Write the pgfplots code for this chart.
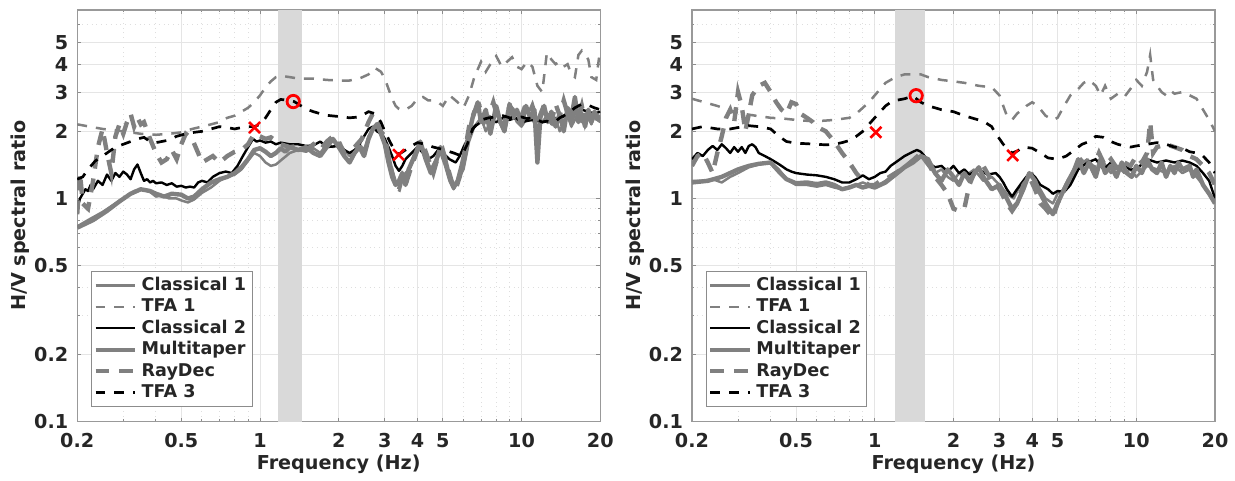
\documentclass[border=0pt]{standalone}
\usepackage{fontspec}
\setmainfont{DejaVu Sans}
\usepackage{pgfplots}
\pgfplotsset{compat=1.18}
\definecolor{lg}{RGB}{128,128,128}
\definecolor{txt}{RGB}{38,38,38}
\definecolor{band}{RGB}{217,217,217}
\tikzset{
 sCa/.style={draw=lg, line width=1.25pt, line join=round},
 sTa/.style={draw=lg, line width=1.25pt, dash pattern=on 5pt off 4.5pt},
 sCb/.style={draw=black, line width=1.2pt, line join=round},
 sMT/.style={draw=lg, line width=2.2pt, line join=round},
 sRD/.style={draw=lg, line width=2.2pt, dash pattern=on 7pt off 5pt},
 sTc/.style={draw=black, line width=1.35pt, dash pattern=on 5pt off 4.5pt},
}
\pgfplotsset{every axis/.append style={
  scale only axis, width=261.8pt, height=206pt,
  xmin=0.2, xmax=20, ymin=0.1, ymax=7,
  xtick={0.2,0.5,1,2,3,4,5,10,20}, xticklabels={0.2,0.5,1,2,3,4,5,10,20},
  ytick={0.1,0.2,0.5,1,2,3,4,5}, yticklabels={0.1,0.2,0.5,1,2,3,4,5},
  minor xtick={0.3,0.4,0.6,0.7,0.8,0.9,6,7,8,9},
  minor ytick={0.3,0.4,0.6,0.7,0.8,0.9,6},
  grid=both,
  major grid style={line width=0.5pt, draw=black!10},
  minor grid style={dotted, draw=black!13, line width=0.5pt},
  axis line style={draw=black!40, line width=0.7pt},
  tick align=inside, major tick length=2pt, minor tick length=1.2pt,
  tick style={draw=black!45, line width=0.5pt},
  ticklabel style={font=\fontsize{9.6}{11}\selectfont\bfseries, text=txt},
  xticklabel style={yshift=-2.5pt},
  yticklabel style={xshift=-1pt},
  xlabel={Frequency (Hz)}, ylabel={H/V spectral ratio},
  label style={font=\fontsize{9.6}{11}\selectfont\bfseries, text=txt},
  xlabel style={at={(axis description cs:0.5,-0.104)}, anchor=center},
  ylabel style={at={(axis description cs:-0.109,0.5)}, anchor=center},
  legend style={at={(0.026,0.036)}, anchor=south west, draw=black!45, line width=0.5pt,
    font=\fontsize{8.8}{10}\selectfont\bfseries, text=txt, inner sep=1pt,
    row sep=-1.4pt, cells={anchor=west}},
  legend cell align=left,
 }}
\begin{document}
\begin{tikzpicture}
\path (-38.65pt,-28.5pt) rectangle (578.85pt,211pt);
% ---------------- left ----------------
\begin{loglogaxis}[at={(0pt,0pt)}, legend image code/.code={\draw[#1] (0pt,0pt) -- (20pt,0pt);}]
\addplot[fill=band, draw=none, forget plot] coordinates {(1.17,0.1)(1.45,0.1)(1.45,7)(1.17,7)} -- cycle;
\addplot[sCa] coordinates {(0.2,0.75)(0.22,0.8)(0.25,0.87)(0.28,0.95)(0.3,1.0)(0.33,1.08)(0.36,1.1)(0.38,1.07)(0.4,1.02)(0.42,1.03)(0.45,1.0)(0.48,1.0)(0.5,0.98)(0.53,0.96)(0.56,0.99)(0.6,1.06)(0.65,1.12)(0.7,1.2)(0.75,1.25)(0.8,1.28)(0.85,1.35)(0.9,1.48)(0.95,1.6)(1.0,1.55)(1.05,1.45)(1.1,1.4)(1.15,1.42)(1.2,1.48)(1.3,1.6)(1.4,1.65)(1.5,1.62)(1.6,1.68)(1.7,1.6)(1.8,1.75)(1.9,1.7)(2.0,1.78)(2.1,1.65)(2.2,1.55)(2.3,1.6)(2.4,1.75)(2.5,1.65)(2.6,1.9)(2.75,2.1)(2.9,2.0)(3.0,1.85)(3.1,1.6)(3.2,1.35)(3.3,1.2)(3.4,1.15)(3.5,1.25)(3.7,1.35)(3.9,1.6)(4.1,1.75)(4.3,1.55)(4.5,1.35)(4.7,1.5)(4.9,1.6)(5.1,1.4)(5.3,1.2)(5.5,1.1)(5.7,1.2)(6.0,1.35)(6.3,1.8)(6.6,2.1)(7.0,2.3)(7.3,2.0)(7.6,2.2)(8.0,2.4)(8.4,2.1)(8.8,2.3)(9.2,2.45)(9.6,2.2)(10,2.1)(10.5,2.3)(11,2.25)(11.5,2.1)(12,2.2)(12.5,2.35)(13,2.15)(13.5,2.3)(14,2.0)(14.5,2.2)(15,2.35)(15.5,2.1)(16,2.25)(16.5,2.45)(17,2.2)(17.5,2.4)(18,2.3)(18.5,2.15)(19,2.35)(19.5,2.25)(20,2.2)};
\addlegendentry{Classical 1}
\addplot[sTa] coordinates {(0.2,2.15)(0.25,2.05)(0.3,2.0)(0.35,1.95)(0.4,1.93)(0.45,1.95)(0.5,1.98)(0.55,2.05)(0.6,2.1)(0.65,2.15)(0.7,2.2)(0.75,2.3)(0.8,2.35)(0.85,2.45)(0.9,2.55)(0.95,2.7)(1.0,2.9)(1.05,3.15)(1.1,3.35)(1.15,3.5)(1.2,3.55)(1.3,3.5)(1.4,3.45)(1.5,3.45)(1.6,3.45)(1.8,3.4)(2.0,3.38)(2.2,3.38)(2.4,3.45)(2.6,3.6)(2.75,3.85)(2.9,3.7)(3.0,3.45)(3.1,3.1)(3.2,2.8)(3.3,2.6)(3.4,2.52)(3.6,2.5)(3.8,2.6)(4.0,2.8)(4.2,2.85)(4.4,2.75)(4.6,2.75)(4.8,2.7)(5.0,2.6)(5.3,2.9)(5.6,2.75)(6.0,2.55)(6.3,2.9)(6.6,3.5)(7.0,4.1)(7.3,3.7)(7.6,4.0)(8.0,4.35)(8.4,3.9)(8.8,4.1)(9.2,4.3)(9.6,3.9)(10,3.8)(10.5,4.1)(11,3.9)(11.5,3.2)(12,3.0)(12.5,4.5)(13,4.2)(13.5,4.0)(14,4.1)(14.5,3.9)(15,4.0)(15.5,3.6)(16,3.5)(16.5,4.4)(17,4.6)(17.5,4.4)(18,4.2)(18.5,3.5)(19.3,3.4)(19.8,4.3)(20,4.4)};
\addlegendentry{TFA 1}
\addplot[sCb] coordinates {(0.2,0.9)(0.205,1.0)(0.21,1.05)(0.215,1.1)(0.22,1.08)(0.225,1.15)(0.23,1.1)(0.24,1.2)(0.25,1.15)(0.26,1.28)(0.27,1.2)(0.28,1.3)(0.29,1.25)(0.3,1.32)(0.31,1.28)(0.32,1.22)(0.33,1.35)(0.34,1.42)(0.35,1.3)(0.36,1.2)(0.37,1.22)(0.38,1.18)(0.39,1.2)(0.4,1.17)(0.42,1.18)(0.44,1.15)(0.46,1.17)(0.48,1.13)(0.5,1.14)(0.52,1.12)(0.54,1.13)(0.56,1.12)(0.58,1.18)(0.6,1.2)(0.63,1.18)(0.66,1.25)(0.7,1.3)(0.74,1.32)(0.78,1.3)(0.82,1.4)(0.86,1.55)(0.9,1.7)(0.94,1.85)(0.97,1.8)(1.0,1.82)(1.05,1.78)(1.1,1.8)(1.15,1.75)(1.2,1.78)(1.3,1.75)(1.4,1.75)(1.5,1.72)(1.6,1.73)(1.7,1.8)(1.8,1.7)(2.0,1.72)(2.1,1.65)(2.2,1.6)(2.3,1.65)(2.4,1.75)(2.5,1.9)(2.6,2.05)(2.7,2.1)(2.8,2.0)(2.9,1.95)(3.0,1.85)(3.1,1.7)(3.2,1.55)(3.3,1.4)(3.4,1.33)(3.5,1.4)(3.6,1.5)(3.8,1.6)(4.0,1.7)(4.2,1.6)(4.4,1.5)(4.6,1.55)(4.8,1.65)(5.0,1.6)(5.3,1.5)(5.6,1.45)(5.8,1.55)(6.0,1.7)(6.3,1.9)(6.6,2.1)(7.0,2.2)(7.5,2.25)(8,2.2)(8.5,2.3)(9,2.25)(9.5,2.3)(10,2.2)(11,2.25)(12,2.2)(13,2.25)(14,2.3)(15,2.35)(16,2.45)(17,2.5)(18,2.45)(19,2.4)(20,2.45)};
\addlegendentry{Classical 2}
\addplot[sMT] coordinates {(0.2,0.74)(0.23,0.8)(0.26,0.88)(0.29,0.97)(0.32,1.05)(0.35,1.1)(0.38,1.08)(0.4,1.05)(0.43,1.02)(0.46,1.05)(0.5,1.04)(0.53,1.0)(0.56,1.02)(0.6,1.1)(0.65,1.18)(0.7,1.22)(0.75,1.25)(0.8,1.3)(0.85,1.38)(0.9,1.5)(0.95,1.65)(1.0,1.68)(1.05,1.62)(1.1,1.55)(1.15,1.6)(1.2,1.68)(1.25,1.62)(1.3,1.7)(1.4,1.65)(1.5,1.7)(1.6,1.6)(1.7,1.55)(1.8,1.7)(1.9,1.85)(2.0,1.7)(2.1,1.55)(2.2,1.45)(2.3,1.6)(2.4,1.7)(2.5,1.55)(2.6,1.85)(2.7,2.05)(2.8,2.15)(2.9,1.95)(3.0,1.75)(3.1,1.45)(3.2,1.25)(3.3,1.15)(3.4,1.2)(3.5,1.3)(3.6,1.15)(3.7,1.35)(3.9,1.55)(4.1,1.8)(4.3,1.5)(4.5,1.3)(4.7,1.45)(4.9,1.7)(5.1,1.5)(5.3,1.25)(5.5,1.12)(5.7,1.2)(5.9,1.4)(6.2,1.8)(6.5,2.3)(6.8,2.7)(7.0,2.2)(7.3,2.5)(7.6,1.95)(8.0,2.6)(8.3,2.2)(8.6,2.0)(9.0,2.65)(9.3,2.3)(9.6,2.5)(10,2.15)(10.4,2.6)(10.8,2.3)(11.2,2.5)(11.5,1.45)(11.8,2.3)(12.2,2.6)(12.6,2.2)(13,2.45)(13.5,2.1)(14,2.4)(14.5,2.0)(15,2.55)(15.5,2.3)(16,2.85)(16.5,2.2)(17,2.4)(17.5,2.1)(18,2.5)(18.5,2.2)(19,2.45)(19.5,2.3)(20,2.35)};
\addlegendentry{Multitaper}
\addplot[sRD] coordinates {(0.2,0.85)(0.205,1.3)(0.21,0.95)(0.22,0.9)(0.23,1.2)(0.24,1.7)(0.25,2.05)(0.26,1.6)(0.27,1.3)(0.28,1.9)(0.29,2.15)(0.3,1.95)(0.31,2.2)(0.32,2.4)(0.33,2.1)(0.34,2.3)(0.35,2.15)(0.36,2.2)(0.38,1.85)(0.4,1.6)(0.42,1.45)(0.44,1.5)(0.46,1.65)(0.48,1.5)(0.5,1.75)(0.52,1.95)(0.55,1.85)(0.58,1.6)(0.6,1.45)(0.63,1.5)(0.66,1.55)(0.7,1.45)(0.75,1.55)(0.8,1.62)(0.85,1.65)(0.9,1.75)(0.95,1.95)(1.0,1.9)(1.05,1.85)(1.1,1.88)(1.2,1.75)(1.3,1.7)(1.4,1.72)(1.5,1.65)(1.6,1.75)(1.7,1.65)(1.8,1.8)(1.9,1.9)(2.0,1.8)(2.1,1.6)(2.2,1.65)(2.3,1.7)(2.45,1.85)(2.6,2.2)(2.7,2.4)(2.8,2.2)(2.9,2.0)(3.0,1.9)(3.1,1.55)(3.2,1.3)(3.3,1.12)(3.4,1.1)(3.5,1.25)(3.6,1.15)(3.8,1.4)(4.0,1.65)(4.2,1.75)(4.4,1.5)(4.6,1.3)(4.8,1.55)(5.0,1.65)(5.2,1.4)(5.4,1.2)(5.6,1.1)(5.8,1.25)(6.0,1.5)(6.3,2.1)(6.6,2.45)(6.9,2.6)(7.2,2.2)(7.5,2.35)(7.8,2.7)(8.1,2.3)(8.5,2.1)(9.0,2.6)(9.4,2.45)(9.8,2.2)(10.2,2.5)(10.6,2.35)(11,2.6)(11.5,2.2)(12,2.5)(12.5,2.3)(13,2.2)(13.5,2.65)(14,2.35)(14.5,2.75)(15,2.4)(15.5,2.2)(16,2.5)(16.5,2.3)(17,2.6)(17.5,2.2)(18,2.45)(19,2.3)(20,2.25)};
\addlegendentry{RayDec}
\addplot[sTc] coordinates {(0.2,1.22)(0.21,1.25)(0.22,1.35)(0.234,1.47)(0.25,1.55)(0.26,1.6)(0.28,1.7)(0.3,1.75)(0.32,1.8)(0.34,1.85)(0.36,1.88)(0.38,1.8)(0.4,1.78)(0.44,1.82)(0.48,1.9)(0.52,1.95)(0.56,1.98)(0.6,2.0)(0.65,2.05)(0.7,2.1)(0.75,2.08)(0.8,2.05)(0.85,2.08)(0.9,2.1)(0.95,2.1)(1.0,2.15)(1.05,2.3)(1.1,2.5)(1.15,2.7)(1.2,2.78)(1.3,2.75)(1.35,2.72)(1.4,2.65)(1.5,2.52)(1.6,2.45)(1.7,2.4)(1.8,2.36)(2.0,2.33)(2.2,2.3)(2.4,2.32)(2.6,2.45)(2.75,2.4)(2.9,2.2)(3.0,2.0)(3.1,1.85)(3.2,1.72)(3.3,1.62)(3.4,1.58)(3.6,1.65)(3.8,1.72)(4.0,1.78)(4.3,1.75)(4.6,1.7)(5.0,1.66)(5.5,1.6)(5.9,1.55)(6.2,1.75)(6.5,2.05)(7.0,2.25)(7.5,2.3)(8.0,2.32)(8.5,2.35)(9.0,2.3)(9.5,2.3)(10,2.32)(10.5,2.28)(11,2.3)(11.5,2.25)(12,2.2)(12.5,2.22)(13,2.2)(13.5,2.22)(14,2.3)(15,2.4)(16,2.55)(17,2.65)(18,2.62)(19,2.55)(20,2.5)};
\addlegendentry{TFA 3}
\addplot[only marks, mark=x, mark size=3.9pt, red, line width=1.3pt, forget plot] coordinates {(0.953,2.08)(3.39,1.57)};
\addplot[only marks, mark=o, mark size=3.1pt, red, line width=1.4pt, forget plot] coordinates {(1.34,2.72)};
\end{loglogaxis}
% ---------------- right ----------------
\begin{loglogaxis}[at={(307.7pt,0pt)}, legend image code/.code={\draw[#1] (0pt,0pt) -- (20pt,0pt);}]
\addplot[fill=band, draw=none, forget plot] coordinates {(1.2,0.1)(1.55,0.1)(1.55,7)(1.2,7)} -- cycle;
\addplot[sCa] coordinates {(0.2,1.2)(0.22,1.2)(0.24,1.22)(0.26,1.18)(0.28,1.25)(0.3,1.3)(0.33,1.38)(0.36,1.42)(0.4,1.45)(0.43,1.35)(0.46,1.22)(0.5,1.15)(0.55,1.15)(0.6,1.13)(0.65,1.15)(0.7,1.12)(0.75,1.1)(0.8,1.13)(0.85,1.15)(0.9,1.18)(0.95,1.15)(1.0,1.12)(1.1,1.2)(1.2,1.3)(1.3,1.4)(1.4,1.5)(1.5,1.55)(1.6,1.4)(1.7,1.3)(1.8,1.35)(1.9,1.25)(2.0,1.2)(2.1,1.3)(2.2,1.25)(2.4,1.35)(2.6,1.2)(2.8,1.25)(3.0,1.15)(3.2,1.05)(3.4,1.0)(3.6,1.15)(3.8,1.25)(4.0,1.3)(4.2,1.15)(4.5,1.0)(4.8,0.95)(5.0,1.05)(5.3,1.1)(5.6,1.2)(6.0,1.4)(6.5,1.5)(7.0,1.35)(7.5,1.45)(8.0,1.3)(8.5,1.4)(9.0,1.3)(9.5,1.35)(10,1.25)(11,1.4)(12,1.35)(13,1.3)(14,1.4)(15,1.3)(16,1.35)(17,1.25)(18,1.15)(19,1.05)(20,0.98)};
\addlegendentry{Classical 1}
\addplot[sTa] coordinates {(0.2,2.8)(0.25,2.6)(0.3,2.42)(0.35,2.35)(0.4,2.3)(0.45,2.28)(0.5,2.25)(0.55,2.23)(0.6,2.22)(0.7,2.25)(0.8,2.3)(0.85,2.4)(0.9,2.55)(0.95,2.7)(1.0,2.9)(1.05,3.1)(1.1,3.3)(1.2,3.5)(1.3,3.6)(1.4,3.6)(1.5,3.6)(1.6,3.5)(1.8,3.4)(2.0,3.35)(2.2,3.3)(2.5,3.2)(2.8,3.15)(3.0,2.9)(3.1,2.6)(3.2,2.35)(3.35,2.25)(3.5,2.4)(3.8,2.6)(4.0,2.7)(4.2,2.6)(4.5,2.35)(4.8,2.25)(5.0,2.3)(5.3,2.6)(5.6,2.9)(6.0,3.1)(6.3,3.3)(6.6,3.4)(7.0,3.2)(7.3,2.9)(7.6,3.2)(8.0,2.8)(8.5,2.95)(9.0,2.85)(9.5,3.1)(10,3.4)(10.5,3.2)(11,3.7)(11.3,4.4)(11.6,3.4)(12,3.2)(12.5,3.0)(13,2.9)(13.5,3.05)(14,2.95)(15,3.0)(16,2.9)(17,2.8)(18,2.5)(19,2.25)(20,2.0)};
\addlegendentry{TFA 1}
\addplot[sCb] coordinates {(0.2,1.5)(0.21,1.6)(0.22,1.55)(0.23,1.65)(0.24,1.72)(0.25,1.65)(0.26,1.75)(0.27,1.68)(0.28,1.6)(0.29,1.7)(0.3,1.62)(0.31,1.7)(0.32,1.6)(0.33,1.72)(0.34,1.75)(0.35,1.7)(0.36,1.6)(0.38,1.55)(0.4,1.5)(0.42,1.45)(0.44,1.4)(0.46,1.35)(0.48,1.32)(0.5,1.3)(0.55,1.28)(0.6,1.27)(0.65,1.25)(0.7,1.22)(0.75,1.18)(0.8,1.18)(0.85,1.22)(0.9,1.27)(0.95,1.22)(1.0,1.25)(1.05,1.3)(1.1,1.32)(1.15,1.4)(1.2,1.45)(1.3,1.55)(1.4,1.62)(1.45,1.65)(1.5,1.62)(1.55,1.55)(1.6,1.45)(1.7,1.38)(1.8,1.4)(1.9,1.32)(2.0,1.4)(2.1,1.3)(2.2,1.35)(2.3,1.28)(2.5,1.35)(2.7,1.28)(2.9,1.3)(3.0,1.25)(3.1,1.18)(3.2,1.1)(3.35,1.02)(3.5,1.1)(3.7,1.2)(3.9,1.3)(4.1,1.25)(4.3,1.15)(4.6,1.1)(4.8,1.05)(5.0,1.08)(5.3,1.07)(5.6,1.15)(6.0,1.35)(6.5,1.45)(7.0,1.5)(7.5,1.35)(8.0,1.45)(8.5,1.35)(9.0,1.4)(9.5,1.35)(10,1.35)(11,1.5)(12,1.45)(13,1.48)(14,1.45)(15,1.48)(16,1.45)(17,1.4)(18,1.3)(19,1.2)(20,1.0)};
\addlegendentry{Classical 2}
\addplot[sMT] coordinates {(0.2,1.18)(0.23,1.2)(0.26,1.25)(0.3,1.35)(0.33,1.4)(0.36,1.43)(0.4,1.45)(0.43,1.32)(0.46,1.22)(0.5,1.17)(0.55,1.18)(0.6,1.16)(0.65,1.18)(0.7,1.15)(0.75,1.1)(0.8,1.12)(0.85,1.15)(0.9,1.12)(0.95,1.14)(1.0,1.12)(1.1,1.18)(1.2,1.28)(1.3,1.38)(1.4,1.45)(1.5,1.55)(1.6,1.5)(1.7,1.3)(1.8,1.2)(1.9,1.35)(2.0,1.25)(2.1,1.15)(2.2,1.3)(2.3,1.2)(2.5,1.38)(2.6,1.25)(2.8,1.1)(3.0,1.15)(3.2,1.0)(3.35,0.9)(3.5,0.95)(3.7,1.1)(3.9,1.3)(4.1,1.2)(4.3,1.05)(4.5,0.95)(4.8,0.85)(5.0,0.95)(5.2,1.05)(5.5,1.2)(5.8,1.35)(6.0,1.5)(6.3,1.3)(6.6,1.45)(7.0,1.25)(7.3,1.5)(7.6,1.3)(8.0,1.4)(8.4,1.25)(8.8,1.45)(9.2,1.3)(9.6,1.25)(10,1.4)(10.5,1.3)(11,1.5)(11.5,1.35)(12,1.3)(12.5,1.45)(13,1.25)(13.5,1.4)(14,1.3)(14.5,1.45)(15,1.35)(16,1.4)(16.5,1.25)(17,1.35)(18,1.15)(19,1.05)(20,0.95)};
\addlegendentry{Multitaper}
\addplot[sRD] coordinates {(0.2,1.4)(0.21,1.55)(0.22,1.6)(0.23,1.45)(0.24,1.3)(0.25,1.6)(0.26,1.9)(0.27,2.3)(0.28,2.5)(0.29,2.2)(0.3,3.0)(0.31,2.6)(0.32,2.0)(0.33,2.4)(0.34,2.9)(0.36,3.2)(0.38,3.3)(0.4,3.0)(0.42,2.7)(0.44,2.5)(0.46,2.4)(0.48,2.7)(0.5,2.65)(0.52,2.4)(0.55,2.3)(0.58,2.2)(0.6,2.1)(0.65,2.0)(0.7,1.8)(0.75,1.6)(0.8,1.45)(0.85,1.3)(0.9,1.2)(0.95,1.15)(1.0,1.15)(1.05,1.2)(1.1,1.22)(1.2,1.3)(1.3,1.38)(1.4,1.48)(1.5,1.6)(1.6,1.45)(1.7,1.25)(1.8,1.15)(1.9,1.05)(2.0,0.9)(2.1,0.88)(2.2,0.9)(2.3,1.15)(2.4,1.3)(2.6,1.4)(2.8,1.2)(3.0,1.1)(3.2,0.95)(3.35,0.88)(3.5,0.95)(3.7,1.15)(3.9,1.25)(4.1,1.1)(4.3,0.95)(4.5,0.9)(4.8,0.82)(5.0,0.95)(5.3,1.1)(5.6,1.25)(6.0,1.45)(6.4,1.55)(6.8,1.35)(7.2,1.6)(7.6,1.4)(8.0,1.5)(8.5,1.35)(9.0,1.45)(9.5,1.4)(10,1.55)(10.5,1.45)(11,1.6)(11.3,2.2)(11.6,1.6)(12,1.7)(13,1.75)(14,1.7)(15,1.65)(16,1.55)(17,1.5)(18,1.4)(19,1.3)(20,1.15)};
\addlegendentry{RayDec}
\addplot[sTc] coordinates {(0.2,2.05)(0.22,2.1)(0.25,2.05)(0.28,2.05)(0.3,2.08)(0.33,2.12)(0.36,2.1)(0.4,2.05)(0.43,1.9)(0.46,1.8)(0.5,1.77)(0.55,1.76)(0.6,1.75)(0.65,1.74)(0.7,1.75)(0.75,1.78)(0.8,1.82)(0.85,1.9)(0.9,2.0)(0.95,2.15)(1.0,2.3)(1.05,2.45)(1.1,2.6)(1.15,2.7)(1.2,2.75)(1.3,2.8)(1.4,2.88)(1.5,2.7)(1.6,2.6)(1.7,2.55)(1.8,2.5)(2.0,2.45)(2.2,2.35)(2.4,2.28)(2.6,2.22)(2.8,2.1)(2.9,1.95)(3.0,1.85)(3.1,1.75)(3.2,1.68)(3.35,1.6)(3.5,1.63)(3.7,1.7)(4.0,1.68)(4.3,1.6)(4.6,1.52)(5.0,1.5)(5.4,1.55)(5.8,1.65)(6.2,1.75)(6.6,1.8)(7.0,1.9)(7.5,1.88)(8.0,1.8)(8.5,1.75)(9.0,1.72)(9.5,1.7)(10,1.72)(11,1.75)(12,1.78)(13,1.75)(14,1.7)(15,1.68)(16,1.62)(17,1.6)(18,1.55)(19,1.45)(20,1.3)};
\addlegendentry{TFA 3}
\addplot[only marks, mark=x, mark size=3.9pt, red, line width=1.3pt, forget plot] coordinates {(1.01,1.98)(3.37,1.56)};
\addplot[only marks, mark=o, mark size=3.1pt, red, line width=1.4pt, forget plot] coordinates {(1.44,2.89)};
\end{loglogaxis}
\end{tikzpicture}
\end{document}
